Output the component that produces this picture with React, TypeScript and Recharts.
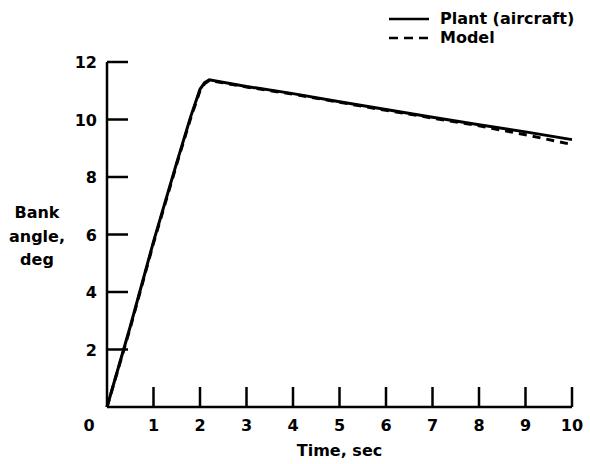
import { LineChart, Line, XAxis, YAxis, Label } from 'recharts';

const timeSec = [0, 0.5, 1, 1.5, 1.8, 2, 2.1, 2.2, 3, 4, 5, 6, 7, 8, 9, 10];
const plantBank = [0, 2.8, 5.75, 8.5, 10.1, 11.05, 11.28, 11.38, 11.15, 10.9, 10.62, 10.35, 10.08, 9.82, 9.57, 9.3];
const modelBank = [0, 2.75, 5.7, 8.45, 10.05, 11.0, 11.25, 11.36, 11.13, 10.88, 10.6, 10.32, 10.05, 9.78, 9.47, 9.13];
const xTicks = [0, 1, 2, 3, 4, 5, 6, 7, 8, 9, 10];
const yTicks = [2, 4, 6, 8, 10, 12];
const seriesNames = ['Plant (aircraft)', 'Model'];

const data = timeSec.map((t, i) => ({ t, plant: plantBank[i], model: modelBank[i] }));

const FONT = 'DejaVu Sans, sans-serif';
const textStyle = { fontFamily: FONT, fontWeight: 'bold' as const, fontSize: 16, fill: '#000' };

function YTick(props: any) {
    const { x, y, payload } = props;
    return (
        <g>
            <line x1={x} x2={x + 21} y1={y} y2={y} stroke="#000" strokeWidth={2.5} />
            <text x={x - 10} y={y} dy={6} textAnchor="end" style={textStyle}>{payload.value}</text>
        </g>
    );
}

function XTick(props: any) {
    const { x, y, payload } = props;
    const isZero = payload.value === 0;
    return (
        <g>
            {!isZero && <line x1={x} x2={x} y1={y} y2={y - 20} stroke="#000" strokeWidth={2.5} />}
            <text x={isZero ? x - 18 : x} y={y + 24} textAnchor="middle" style={textStyle}>{payload.value}</text>
        </g>
    );
}

function YTitle() {
    return (
        <text textAnchor="middle" style={textStyle}>
            <tspan x={37} y={218}>Bank</tspan>
            <tspan x={37} y={242}>angle,</tspan>
            <tspan x={37} y={265}>deg</tspan>
        </text>
    );
}

export default function App() {
    return (
        <div style={{ position: 'relative', width: 590, height: 464 }}>
            <style>{`body{margin:0}`}</style>
            <LineChart width={590} height={464} data={data} margin={{ top: 62, right: 18, bottom: 0, left: 0 }}>
                <XAxis
                    dataKey="t"
                    type="number"
                    domain={[0, 10]}
                    ticks={xTicks}
                    height={57}
                    tickSize={0}
                    tickMargin={0}
                    tickLine={false}
                    tick={XTick}
                    axisLine={{ stroke: '#000', strokeWidth: 2.5 }}
                >
                    <Label value="Time, sec" position="insideBottom" offset={8} style={textStyle} />
                </XAxis>
                <YAxis
                    type="number"
                    domain={[0, 12]}
                    ticks={yTicks}
                    width={107}
                    tickSize={0}
                    tickMargin={0}
                    tickLine={false}
                    tick={YTick}
                    axisLine={{ stroke: '#000', strokeWidth: 2.5 }}
                >
                    <Label content={YTitle} />
                </YAxis>
                <Line type="linear" dataKey="plant" stroke="#000" strokeWidth={3} dot={false} isAnimationActive={false} />
                <Line type="linear" dataKey="model" stroke="#000" strokeWidth={3} strokeDasharray="8 6" dot={false} isAnimationActive={false} />
            </LineChart>
            <svg width={210} height={50} style={{ position: 'absolute', left: 385, top: 0 }}>
                <line x1={4} x2={44} y1={19} y2={19} stroke="#000" strokeWidth={2.5} />
                <text x={55} y={24} style={textStyle}>{seriesNames[0]}</text>
                <line x1={4} x2={44} y1={38} y2={38} stroke="#000" strokeWidth={2.5} strokeDasharray="9 6" />
                <text x={55} y={43} style={textStyle}>{seriesNames[1]}</text>
            </svg>
        </div>
    );
}
